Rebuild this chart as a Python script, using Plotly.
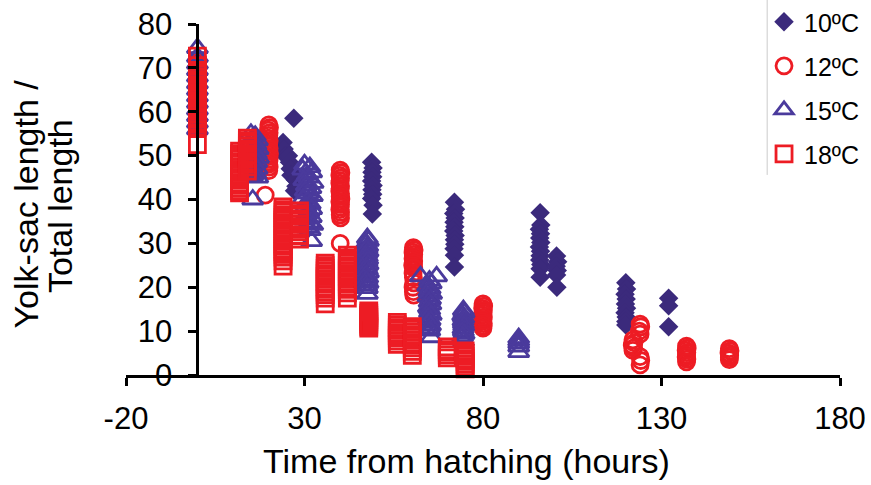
import plotly.graph_objects as go

# Yolk-sac length as a percentage of total length, by rearing temperature
t10_x = [0, 0, 0, 0, 0, 0, 0, 0, 0,
         24, 24.3, 24.6, 25.5, 25.8, 26, 26.2, 27, 27.2, 27.4, 27.6, 27.2,
         48.8, 49.2, 48.9, 49.1, 48.8, 49.2, 48.9, 49.1, 48.8, 49.2, 49,
         72, 72.3, 71.8, 72.2, 71.9, 72.1, 71.8, 72.2, 72, 72.1, 71.9, 72, 72,
         96, 96.2, 95.8, 96.1, 95.9, 96.2, 95.8, 96.1, 96, 95.9, 96.2, 96, 96,
         100.6, 100.9, 100.5, 100.8, 100.6, 100.7,
         120, 120.2, 119.8, 120.1, 119.9, 120.2, 119.8, 120.1, 120, 120,
         132, 132, 132]
t10_y = [60, 61.5, 63, 64.5, 66, 67.5, 69, 70.5, 72,
         53, 51.5, 50, 50, 48.5, 47, 45.5, 58.5, 46, 44.5, 43, 42,
         48.5, 47.2, 46.2, 45.2, 44.2, 43.2, 42.2, 41.2, 40.2, 38.7, 36.7,
         39.4, 37.8, 36.8, 35.8, 34.8, 33.8, 32.8, 31.8, 30.8, 29.8, 28.8, 27.3, 24.6,
         37, 34.2, 33.2, 32.2, 31.2, 30.2, 29.2, 28.2, 27.2, 26.2, 25.2, 24.2, 22.3,
         27.1, 25.8, 24.8, 23.8, 22.8, 20,
         21, 19.6, 18.4, 17.3, 16.2, 15.2, 14.2, 13.2, 12.2, 11.4,
         17.5, 15.8, 11]

t12_x = [0, 0, 0, 0, 0, 0, 0, 0, 0, 0, 0, 0, 0, 0, 0, 0, 0, 0, 0, 0, 0,
         20, 20.2, 19.9, 20.1, 20, 19.9, 20.1, 20, 19.9, 20.1, 20, 20.2, 19.9, 20.1, 20, 19.9, 20.1, 20, 19,
         40, 40.2, 39.9, 40.1, 40, 39.9, 40.1, 40, 39.9, 40.1, 40, 40.2, 39.9, 40.1, 40, 39.9, 40.1, 40, 40.1, 40,
         60.5, 60.7, 60.4, 60.6, 60.5, 60.4, 60.6, 60.5, 60.3, 60.6, 60.4, 60.5, 60.6, 60.4, 60.5, 60.6,
         80, 80.2, 79.9, 80.1, 80, 79.9, 80.1, 80, 79.9, 80.1, 80, 80,
         124, 124.2, 123.8, 124, 122, 122.3, 121.8, 122.2, 122, 124, 124.2, 124,
         137, 137.2, 136.9, 137.1, 137, 136.9, 137.1, 137,
         149, 149.2, 148.9, 149.1, 149, 149]
t12_y = [58, 58.7, 59.4, 60.1, 60.8, 61.5, 62.2, 62.9, 63.6, 64.3, 65, 65.7, 66.4, 67.1, 67.8, 68.5, 69.2, 69.9, 70.6, 71.3, 72,
         57, 56.4, 55.8, 55.2, 54.6, 54, 53.4, 52.8, 52.2, 51.6, 51, 50.4, 49.8, 49.2, 48.6, 48, 47.4, 46.6, 41,
         46.7, 46.1, 45.5, 44.9, 44.3, 43.7, 43.1, 42.5, 41.9, 41.3, 40.7, 40.1, 39.5, 38.9, 38.3, 37.7, 37.1, 36.5, 35.8, 30,
         29, 28.5, 28, 27.5, 27, 26.5, 26, 25.5, 25, 24.5, 23.2, 22.2, 21, 20, 19, 18.2,
         16.2, 15.7, 15.2, 14.7, 14.2, 13.7, 13.2, 12.7, 12.2, 11.7, 11.2, 10.7,
         11.6, 11, 10, 9.3, 8, 7.4, 6.8, 6.2, 5.6, 4.2, 3.3, 2.3,
         6.6, 6.1, 5.6, 5.1, 4.6, 4.1, 3.6, 3,
         6, 5.5, 5, 4.5, 4, 3.5]

t15_x = [0, 0, 0, 0, 0, 0, 0, 0, 0, 0, 0, 0, 0,
         15, 16.2, 15.5, 16.8, 15.2, 16.4, 15.8, 17, 15.3, 16.5, 15.9, 17.1, 15.4, 16.6, 16, 15.2, 16.7, 15.8, 16.3, 15.5, 16.9, 15.5,
         30, 31.5, 29.5, 32, 30.8, 31.2, 29.8, 32.4, 30.5, 31.8, 30.2, 31, 32.2, 29.6, 30.9, 31.6, 30.4, 32, 31.2, 30.6,
         31.9, 30.1, 31.4, 32.3, 30.8, 31.6, 32,
         47.6, 47.9, 47.3, 47.7, 47.5, 47.8, 47.4, 47.6, 47.7, 47.5, 47.8, 47.4, 47.6, 47.9, 47.3, 47.7, 47.5, 47.8, 47.4, 47.6, 47.6,
         62.5, 67, 65, 65.5, 64.5, 65.2, 64.8, 65.6, 64.6, 65.3, 64.9, 65.4, 64.7, 65.1, 65, 65.5, 64.6, 65.2, 64.8, 65.3, 64.9, 65.1, 65.5,
         74.5, 74.7, 74.3, 74.6, 74.4, 74.5, 74.6, 74.4, 74.5, 74.7, 74.3, 74.5,
         90, 90, 90, 90, 90]
t15_y = [56, 57.5, 59, 60.5, 62, 63.5, 65, 66.5, 68, 69.5, 71, 72.5, 74.5,
         55, 54.5, 54, 53.5, 53, 52.5, 52, 51.5, 51, 50.5, 50, 49.5, 49, 48.5, 48, 47.5, 47, 46.5, 46, 45.5, 45, 40,
         48, 47.4, 46.8, 46.2, 45.6, 45, 44.4, 43.8, 43.2, 42.6, 42, 41.4, 40.8, 40.2, 39.6, 39, 38.4, 37.8, 37.2, 36.6,
         36, 35.4, 34.8, 34.2, 33.6, 33, 30.5,
         31.2, 30.6, 30, 29.4, 28.8, 28.2, 27.6, 27, 26.4, 25.8, 25.2, 24.6, 24, 23.4, 22.8, 22.2, 21.6, 21, 20.4, 19.8, 18.5,
         22.5, 22.5, 21.5, 20.9, 20.3, 19.7, 19.1, 18.5, 17.9, 17.3, 16.7, 16.1, 15.5, 14.9, 14.3, 13.7, 13.1, 12.5, 11.9, 11.3, 10.7, 10.1, 8.6,
         14.8, 14.2, 13.6, 13, 12.4, 11.8, 11.2, 10.6, 10, 9.4, 8.8, 7.8,
         8.4, 7.8, 7.2, 6.5, 5.2]

t18_x = [0, 0, 0, 0, 0, 0, 0, 0, 0, 0, 0, 0, 0, 0, 0, 0, 0, 0, 0, 0, 0, 0, 0, 0, 0,
         11.8, 11.8, 11.8, 11.8, 11.8, 11.8, 11.8, 11.8, 11.8, 11.8, 11.8, 11.8, 11.8, 11.8, 11.8, 11.8, 11.8,
         14, 14, 14, 14, 14, 14, 14, 14, 14, 14, 14, 14, 14,
         24, 24, 24, 24, 24, 24, 24, 24, 24, 24, 24, 24, 24, 24, 24, 24, 24, 24, 24, 24, 24, 24,
         28.6, 28.6, 28.6, 28.6, 28.6, 28.6, 28.6, 28.6, 28.6, 28.6, 28.6,
         35.8, 35.8, 35.8, 35.8, 35.8, 35.8, 35.8, 35.8, 35.8, 35.8, 35.8, 35.8, 35.8, 35.8, 35.8,
         42, 42, 42, 42, 42, 42, 42, 42, 42, 42, 42, 42, 42, 42, 42, 42,
         48, 48, 48, 48, 48, 48, 48, 48, 48,
         56, 56, 56, 56, 56, 56, 56, 56, 56,
         60.2, 60.2, 60.2, 60.2, 60.2, 60.2, 60.2, 60.2, 60.2, 60.2, 60.2,
         70, 70, 70, 70, 70,
         75, 75, 75, 75, 75, 75, 75, 75]
t18_y = [52.5, 56.5, 57.1, 57.7, 58.3, 58.9, 59.5, 60.1, 60.7, 61.3, 61.9, 62.5, 63.1, 63.7, 64.3, 64.9, 65.5, 66.1, 66.7, 67.3, 67.9, 68.5, 69.4, 70.5, 72.7,
         51, 50.4, 49.8, 49.2, 48.6, 48, 47.4, 46.8, 46.2, 45.6, 45, 44.4, 43.8, 43.2, 42.6, 42, 41.5,
         54, 53.4, 52.8, 52.2, 51.6, 51, 50.4, 49.8, 49.2, 48.6, 48, 47.4, 46.5,
         38.3, 37.7, 37.1, 36.5, 35.9, 35.3, 34.7, 34.1, 33.5, 32.9, 32.3, 31.7, 31.1, 30.5, 29.9, 29.3, 28.7, 28.1, 27.5, 26.9, 26, 24.8,
         37.4, 36.8, 36.2, 35.6, 35, 34.4, 33.8, 33.2, 32.6, 31.8, 31,
         25.5, 24.9, 24.3, 23.7, 23.1, 22.5, 21.9, 21.3, 20.7, 20.1, 19.5, 18.9, 18.3, 17.5, 16.2,
         27.3, 26.7, 26.1, 25.5, 24.9, 24.3, 23.7, 23.1, 22.5, 21.9, 21.3, 20.7, 20.1, 19.5, 18.7, 17.5,
         14.6, 14.1, 13.6, 13.1, 12.6, 12.1, 11.6, 11.1, 10.7,
         12, 11.4, 10.8, 10.2, 9.6, 9, 8.4, 7.7, 7,
         11, 10.4, 9.8, 9.2, 8.6, 8, 7.4, 6.8, 6.2, 5.4, 4.5,
         6.4, 5.8, 5.2, 4.6, 3.9,
         5.5, 4.9, 4.3, 3.7, 3.1, 2.5, 1.9, 1.4]

series_names = ["10ºC", "12ºC", "15ºC", "18ºC"]
x_ticks = [-20, 30, 80, 130, 180]
y_ticks = [0, 10, 20, 30, 40, 50, 60, 70, 80]

RED = "#ED1C24"
DARK_PURPLE = "#3B2A7C"
PURPLE = "#4A3A9C"
FONT = "Liberation Sans, Arial, sans-serif"

fig = go.Figure()
fig.add_trace(go.Scatter(
    x=t10_x, y=t10_y, mode="markers", name=series_names[0], legendgroup="a",
    marker=dict(symbol="diamond", size=15, color=DARK_PURPLE, line=dict(width=0)),
    cliponaxis=False))
fig.add_trace(go.Scatter(
    x=t12_x, y=t12_y, mode="markers", name=series_names[1], legendgroup="b",
    marker=dict(symbol="circle-open", size=16, color=RED, line=dict(width=2.8)),
    cliponaxis=False))
fig.add_trace(go.Scatter(
    x=t15_x, y=t15_y, mode="markers", name=series_names[2], legendgroup="c",
    marker=dict(symbol="triangle-up-open", size=18, color=PURPLE, line=dict(width=2.8)),
    cliponaxis=False))
fig.add_trace(go.Scatter(
    x=t18_x, y=t18_y, mode="markers", name=series_names[3], legendgroup="d",
    marker=dict(symbol="square-open", size=16, color=RED, line=dict(width=2.8)),
    cliponaxis=False))

fig.update_layout(
    width=871, height=485,
    margin=dict(l=126, r=31, t=24, b=110, autoexpand=False),
    paper_bgcolor="white", plot_bgcolor="white",
    font=dict(family=FONT, color="black"),
    showlegend=True,
    legend=dict(x=0.8936, y=1.071, xanchor="left", yanchor="top",
                font=dict(size=25, family=FONT), tracegroupgap=8.5,
                bgcolor="rgba(0,0,0,0)", borderwidth=0),
    xaxis=dict(range=[-20, 180], tickvals=x_ticks,
               ticktext=[str(v) for v in x_ticks],
               showline=True, linecolor="black", linewidth=3,
               ticks="outside", ticklen=8, tickwidth=3, tickcolor="black",
               showgrid=False, zeroline=False, automargin=False,
               tickfont=dict(size=31, family=FONT), ticklabelstandoff=6),
    yaxis=dict(range=[0, 80], tickvals=y_ticks, anchor="free", position=0.1,
               showline=True, linecolor="black", linewidth=3,
               ticks="outside", ticklen=8, tickwidth=3, tickcolor="black",
               showgrid=False, zeroline=False, automargin=False,
               tickfont=dict(size=31, family=FONT), ticklabelstandoff=10),
    shapes=[dict(type="line", xref="paper", yref="paper",
                 x0=0.898, x1=0.898, y0=0.57, y1=1.07,
                 line=dict(color="#CCCCCC", width=1))],
    annotations=[
        dict(text="Time from hatching (hours)", xref="paper", yref="paper",
             x=0.477, y=-0.245, xanchor="center", yanchor="middle",
             showarrow=False, font=dict(size=34, family=FONT)),
        dict(text="Yolk-sac length /", xref="paper", yref="paper",
             x=-0.14, y=0.486, xanchor="center", yanchor="middle", textangle=-90,
             showarrow=False, font=dict(size=34, family=FONT)),
        dict(text="Total length", xref="paper", yref="paper",
             x=-0.093, y=0.48, xanchor="center", yanchor="middle", textangle=-90,
             showarrow=False, font=dict(size=34, family=FONT)),
    ],
)

fig.write_html("out.html")
